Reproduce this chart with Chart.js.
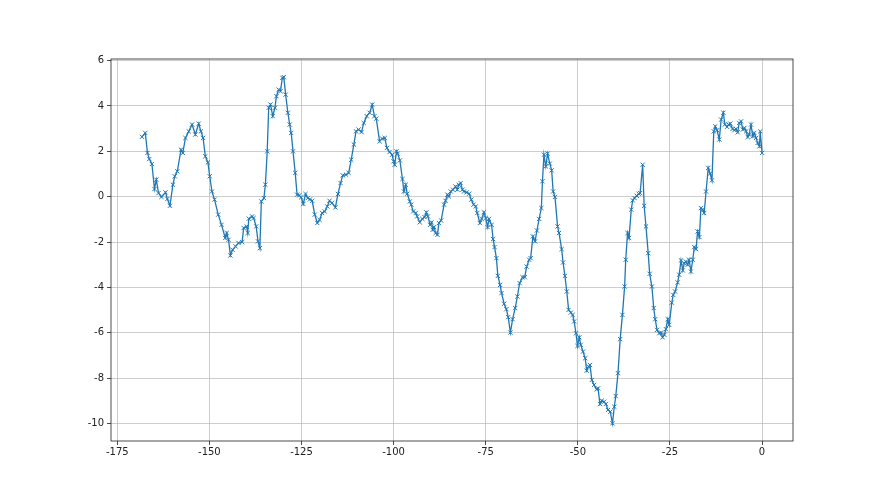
<!DOCTYPE html>
<html>
<head>
<meta charset="utf-8">
<script src="https://cdn.jsdelivr.net/npm/chart.js@4.4.1/dist/chart.umd.min.js"></script>
<style>
  body { margin: 0; background: #fff; }
</style>
</head>
<body>
<canvas id="myChart" width="880" height="495"></canvas>
<script>
// Valores (x, y)
const xValues = [
    -168.3, -167.4, -166.8, -166.3, -165.6, -164.9, -164.4, -163.8, -163.0, -161.9,
    -161.4, -160.7, -159.9, -159.4, -158.7, -157.7, -157.2, -156.5, -155.6, -154.7,
    -153.8, -152.9, -152.3, -151.7, -151.1, -150.4, -149.9, -149.3, -148.6, -147.6,
    -146.7, -145.7, -145.3, -144.8, -144.3, -143.7, -142.9, -142.1, -141.1, -140.7,
    -139.9, -139.6, -139.3, -138.4, -138.0, -137.3, -136.8, -136.3, -135.9, -135.2,
    -134.8, -134.3, -133.9, -133.4, -132.8, -132.2, -131.8, -131.2, -130.7, -130.2,
    -129.8, -129.3, -128.7, -128.2, -127.8, -127.3, -126.7, -126.2, -125.6, -125.1,
    -124.5, -123.9, -123.3, -122.7, -122.1, -121.4, -120.7, -120.1, -119.4, -118.7,
    -118.0, -117.4, -116.7, -115.8, -115.1, -114.4, -113.8, -112.9, -112.2, -111.5,
    -110.8, -110.2, -109.5, -108.7, -108.1, -107.3, -106.5, -105.8, -105.2, -104.7,
    -103.8, -103.1, -102.4, -101.8, -101.1, -100.4, -100.0, -99.7, -99.2, -98.9,
    -98.3, -97.6, -97.2, -96.7, -96.3, -95.6, -95.2, -94.7, -94.0, -93.6,
    -92.9, -92.2, -91.6, -91.1, -90.7, -90.1, -89.7, -89.4, -89.0, -88.6,
    -88.1, -87.7, -87.1, -86.3, -85.9, -85.4, -85.0, -84.5, -83.9, -83.2,
    -82.7, -82.3, -81.8, -81.3, -80.9, -80.2, -79.5, -78.9, -78.3, -77.7,
    -77.3, -76.6, -76.1, -75.5, -75.0, -74.5, -74.1, -73.4, -73.0, -72.6,
    -72.1, -71.7, -71.1, -70.7, -70.0, -69.4, -68.9, -68.3, -67.7, -67.0,
    -66.4, -65.8, -65.0, -64.4, -63.9, -63.2, -62.8, -62.2, -61.6, -61.1,
    -60.5, -59.9, -59.6, -59.2, -58.7, -58.2, -57.6, -57.1, -56.7, -56.2,
    -55.5, -55.1, -54.4, -54.0, -53.5, -53.0, -52.5, -51.9, -51.4, -51.0,
    -50.5, -50.1, -49.6, -49.2, -48.6, -48.0, -47.6, -47.1, -46.7, -46.2,
    -45.6, -44.9, -44.5, -44.0, -43.5, -42.9, -42.4, -41.8, -41.2, -40.6,
    -40.1, -39.7, -39.1, -38.5, -37.9, -37.3, -37.0, -36.5, -36.1, -35.5,
    -35.1, -34.6, -34.0, -33.5, -33.1, -32.4, -32.0, -31.5, -30.9, -30.5,
    -29.9, -29.4, -29.0, -28.5, -27.9, -27.4, -27.0, -26.5, -26.1, -25.6,
    -25.2, -24.5, -24.1, -23.6, -22.9, -22.5, -22.0, -21.5, -21.1, -20.7,
    -20.2, -19.8, -19.3, -18.8, -18.4, -17.9, -17.5, -17.0, -16.6, -16.1,
    -15.7, -15.2, -14.6, -14.1, -13.6, -13.1, -12.7, -12.2, -11.6, -11.1,
    -10.5, -10.1, -9.5, -9.1, -8.6, -8.0, -7.5, -7.1, -6.6, -6.2,
    -5.7, -5.2, -4.8, -4.3, -3.9, -3.5, -3.0, -2.5, -2.1, -1.6,
    -1.2, -0.7, -0.5, 0
];
const yValues = [
    2.64, 2.81, 1.93, 1.66, 1.44, 0.34, 0.75, 0.16, -0.01, 0.19,
    -0.10, -0.40, 0.53, 0.90, 1.12, 2.07, 1.93, 2.59, 2.88, 3.18,
    2.74, 3.22, 2.88, 2.59, 1.78, 1.51, 0.90, 0.23, -0.13, -0.79,
    -1.24, -1.82, -1.60, -1.90, -2.59, -2.34, -2.19, -2.04, -2.00, -1.38,
    -1.31, -1.60, -0.97, -0.87, -0.94, -1.31, -1.97, -2.27, -0.21, -0.06,
    0.53, 2.00, 3.92, 4.06, 3.55, 3.92, 4.43, 4.72, 4.65, 5.24,
    5.27, 4.50, 3.70, 3.18, 2.81, 2.00, 1.05, 0.09, 0.06, -0.03,
    -0.32, 0.12, -0.06, -0.12, -0.18, -0.79, -1.16, -1.02, -0.72, -0.65,
    -0.43, -0.18, -0.28, -0.47, 0.12, 0.60, 0.94, 0.97, 1.05, 1.63,
    2.30, 2.88, 2.96, 2.85, 3.25, 3.55, 3.70, 4.06, 3.55, 3.44,
    2.44, 2.56, 2.59, 2.15, 1.97, 1.85, 1.56, 1.41, 2.00, 1.90,
    1.60, 0.78, 0.23, 0.53, 0.13, -0.21, -0.35, -0.65, -0.72, -0.87,
    -1.13, -0.98, -0.90, -0.69, -0.87, -1.24, -1.13, -1.46, -1.34, -1.60,
    -1.68, -1.16, -1.05, -0.35, -0.18, 0.09, 0.01, 0.23, 0.31, 0.45,
    0.31, 0.53, 0.60, 0.31, 0.23, 0.19, 0.13, -0.13, -0.35, -0.43,
    -0.72, -1.16, -0.98, -0.69, -0.94, -1.34, -0.98, -1.24, -1.87, -2.22,
    -2.71, -3.49, -3.89, -4.25, -4.72, -4.96, -5.31, -5.99, -5.40, -4.91,
    -4.40, -3.81, -3.55, -3.55, -3.08, -2.78, -2.71, -1.75, -1.97, -1.49,
    -0.98, -0.50, 0.68, 1.85, 1.34, 1.90, 1.46, 1.16, 0.23, -0.01,
    -1.31, -1.60, -2.31, -2.90, -3.49, -4.18, -4.99, -5.11, -5.21, -5.50,
    -6.02, -6.58, -6.20, -6.53, -6.83, -7.12, -7.67, -7.49, -7.42, -8.08,
    -8.30, -8.49, -8.45, -9.14, -8.99, -9.04, -9.14, -9.40, -9.48, -9.99,
    -9.26, -8.79, -7.78, -6.28, -5.21, -3.96, -2.78, -1.60, -1.82, -0.57,
    -0.16, -0.06, 0.04, 0.13, 0.16, 1.41, -0.40, -1.31, -2.49, -3.40,
    -3.96, -4.91, -5.40, -5.87, -6.02, -5.99, -6.20, -6.09, -5.84, -5.40,
    -5.65, -4.67, -4.33, -4.18, -3.78, -3.44, -2.81, -3.25, -2.93, -2.86,
    -3.00, -2.78, -3.30, -2.78, -2.22, -2.31, -1.53, -1.78, -0.50, -0.57,
    -0.72, 0.23, 1.27, 1.02, 0.72, 2.88, 3.10, 2.93, 2.52, 3.40,
    3.70, 3.18, 3.08, 3.18, 3.22, 2.99, 2.93, 2.99, 2.84, 3.25,
    3.32, 2.96, 3.03, 2.88, 2.63, 2.74, 3.18, 2.66, 2.81, 2.59,
    2.37, 2.22, 2.88, 1.93
];

// Marcas dos eixos
const xTicks = [-175, -150, -125, -100, -75, -50, -25, 0];
const yTicks = [-10, -8, -6, -4, -2, 0, 2, 4, 6];

const points = xValues.map((x, i) => ({ x: x, y: yValues[i] }));

// Moldura em volta da área do gráfico
const frame = {
    id: 'frame',
    afterDraw(chart) {
        const a = chart.chartArea;
        const c = chart.ctx;
        c.save();
        c.strokeStyle = '#222';
        c.lineWidth = 0.8;
        c.strokeRect(a.left, a.top, a.right - a.left, a.bottom - a.top);
        c.restore();
    }
};

const ctx = document.getElementById('myChart').getContext('2d');
const myChart = new Chart(ctx, {
    type: 'line',
    data: {
        datasets: [{
            data: points,
            borderColor: '#1f77b4',
            borderWidth: 1.3,
            pointStyle: 'crossRot',
            pointRadius: 3,
            pointBorderColor: '#1f77b4',
            pointBorderWidth: 1,
            tension: 0
        }]
    },
    options: {
        responsive: false,
        animation: false,
        plugins: {
            legend: { display: false },
            tooltip: { enabled: false }
        },
        layout: {
            padding: { top: 59, right: 87, bottom: 0, left: 0 }
        },
        scales: {
            x: {
                type: 'linear',
                min: -176.7,
                max: 8.4,
                afterBuildTicks: (axis) => { axis.ticks = xTicks.map(v => ({ value: v })); },
                afterFit: (axis) => { axis.height = 54; },
                grid: { color: '#c0c0c0', lineWidth: 0.8, tickColor: '#222', tickLength: 4 },
                border: { display: false },
                ticks: {
                    color: '#222',
                    font: { family: 'DejaVu Sans', size: 10 },
                    padding: 1,
                    maxRotation: 0
                }
            },
            y: {
                min: -10.77,
                max: 6.07,
                afterBuildTicks: (axis) => { axis.ticks = yTicks.map(v => ({ value: v })); },
                afterFit: (axis) => { axis.width = 111; },
                grid: { color: '#c0c0c0', lineWidth: 0.8, tickColor: '#222', tickLength: 4 },
                border: { display: false },
                ticks: {
                    color: '#222',
                    font: { family: 'DejaVu Sans', size: 10 },
                    padding: 3
                }
            }
        }
    },
    plugins: [frame]
});
</script>
</body>
</html>
